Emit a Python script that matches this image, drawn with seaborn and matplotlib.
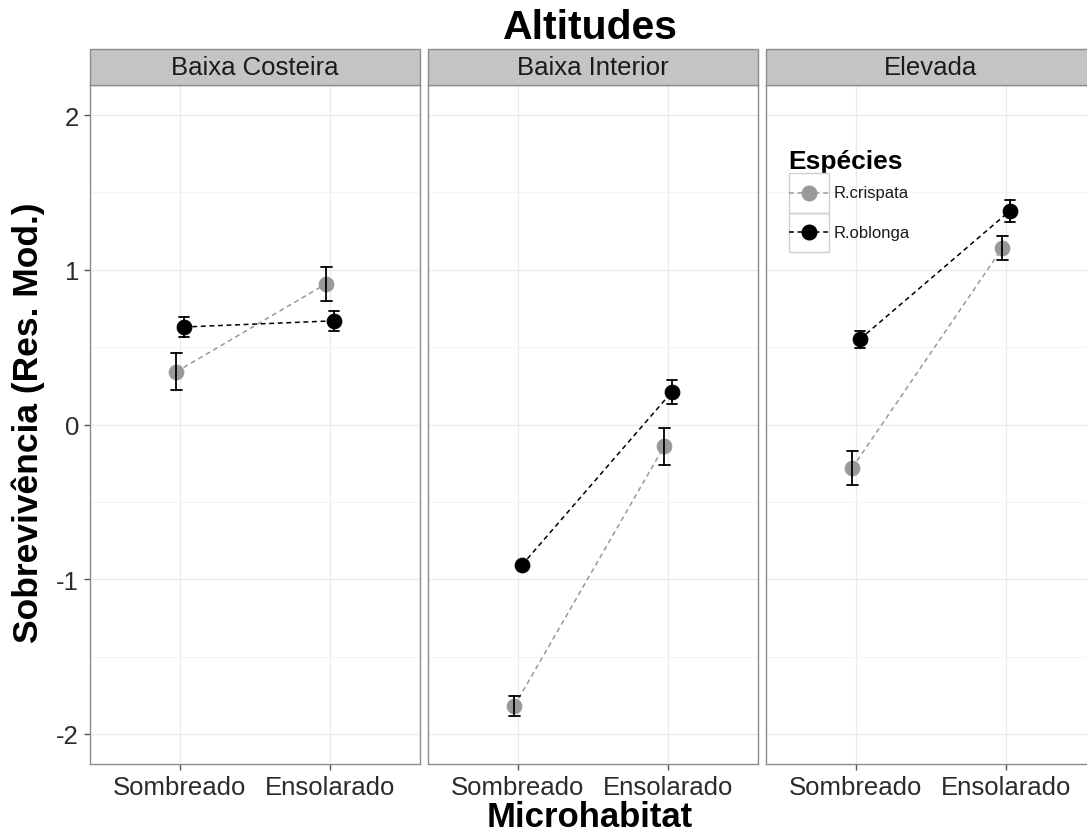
import numpy as np
import pandas as pd
import matplotlib
matplotlib.use("Agg")
import matplotlib.pyplot as plt
from matplotlib.lines import Line2D
from matplotlib.patches import Rectangle
from matplotlib.legend_handler import HandlerLine2D
import seaborn as sns

# ---- data -------------------------------------------------------------
altitudes = ["Baixa Costeira", "Baixa Interior", "Elevada"]
habitats = ["Sombreado", "Ensolarado"]
species = ["R.crispata", "R.oblonga"]

# mean survival residuals per altitude (rows) and microhabitat (cols)
crispata_mean = [[0.34, 0.91], [-1.82, -0.14], [-0.28, 1.14]]
crispata_se = [[0.12, 0.11], [0.065, 0.12], [0.11, 0.075]]
oblonga_mean = [[0.63, 0.67], [-0.91, 0.21], [0.55, 1.38]]
oblonga_se = [[0.065, 0.065], [0.02, 0.075], [0.055, 0.07]]

y_ticks = [-2, -1, 0, 1, 2]
y_tick_labels = ["-2", "-1", "0", "1", "2"]

# long table: each cell holds mean-se, mean, mean+se so that the
# estimator returns the mean and the min/max interval returns +/- se
rows = []
for sp, means, ses in [(species[0], crispata_mean, crispata_se),
                       (species[1], oblonga_mean, oblonga_se)]:
    for i, alt in enumerate(altitudes):
        for j, hab in enumerate(habitats):
            m, s = means[i][j], ses[i][j]
            for v in (m - s, m, m + s):
                rows.append({"Altitude": alt, "Microhabitat": hab,
                             "Especie": sp, "valor": v})
df = pd.DataFrame(rows)

# ---- style ------------------------------------------------------------
sns.set_theme(style="white")
plt.rcParams["font.family"] = ["Liberation Sans", "DejaVu Sans"]

palette = {"R.crispata": "#999999", "R.oblonga": "#000000"}
border = "#8c8c8c"
strip_fill = "#c4c4c4"
tick_color = "#2b2b2b"
dash = (0, (3.2, 2.4))

W, H = 1087, 837
fig = plt.figure(figsize=(W / 100, H / 100), dpi=100)

panel_left = [90, 428, 766]
panel_w = 330
panel_top, panel_bottom = 86, 765
strip_h = 36

axes = []
for k, alt in enumerate(altitudes):
    ax = fig.add_axes([panel_left[k] / W, 1 - panel_bottom / H,
                       panel_w / W, (panel_bottom - panel_top) / H])
    sub = df[df["Altitude"] == alt]
    sns.pointplot(
        data=sub, x="Microhabitat", y="valor", hue="Especie",
        order=habitats, hue_order=species, palette=palette,
        estimator="mean", errorbar=lambda v: (v.min(), v.max()),
        dodge=0.05, capsize=0.07, linestyles=dash,
        markers="o", markersize=10.5, linewidth=1.1,
        err_kws={"color": "black", "linewidth": 1.3},
        legend=False, ax=ax,
    )
    ax.set_xlim(-0.6, 1.6)
    ax.set_ylim(-2.194, 2.194)
    ax.set_yticks(y_ticks)
    ax.set_yticklabels(y_tick_labels)
    ax.set_yticks(np.arange(-1.5, 2.0, 1.0), minor=True)
    ax.grid(True, which="major", color="#ebebeb", linewidth=1.0)
    ax.grid(True, which="minor", axis="y", color="#f4f4f4", linewidth=0.8)
    ax.set_axisbelow(True)
    for sp in ax.spines.values():
        sp.set_color(border)
        sp.set_linewidth(1.0)
        sp.set_visible(True)
    ax.tick_params(axis="both", which="major", length=4, width=1.0,
                   color="#555555", labelsize=18.5, labelcolor=tick_color,
                   pad=4, left=True, bottom=True)
    ax.tick_params(axis="y", which="minor", length=0)
    ax.set_xlabel("")
    ax.set_ylabel("")
    if k > 0:
        ax.tick_params(axis="y", labelleft=False, left=False)

    # facet strip
    sh = strip_h / (panel_bottom - panel_top)
    ax.add_patch(Rectangle((0, 1), 1, sh, transform=ax.transAxes,
                           facecolor=strip_fill, edgecolor=border,
                           linewidth=1.0, clip_on=False, zorder=3))
    ax.text(0.5, 1 + sh / 2, alt, transform=ax.transAxes, ha="center",
            va="center", fontsize=18.5, color="#1a1a1a", zorder=4)
    axes.append(ax)

# ---- titles -----------------------------------------------------------
fig.text(590 / W, 1 - 28 / H, "Altitudes", ha="center", va="center",
         fontsize=29.5, fontweight="bold", color="black")
fig.text(590 / W, 1 - 818 / H, "Microhabitat", ha="center", va="center",
         fontsize=25, fontweight="bold", color="black")
fig.text(28 / W, 1 - 423 / H, "Sobrevivência (Res. Mod.)", ha="center",
         va="center", rotation=90, fontsize=25.5, fontweight="bold",
         color="black")


# ---- legend with boxed keys -------------------------------------------
class BoxedKey(HandlerLine2D):
    def create_artists(self, legend, orig_handle, xdescent, ydescent,
                       width, height, fontsize, trans):
        arts = super().create_artists(legend, orig_handle, xdescent,
                                      ydescent, width, height, fontsize,
                                      trans)
        yc = (height - 2 * ydescent) / 2
        for a in arts:
            a.set_ydata(np.full_like(np.asarray(a.get_xdata(), float), yc))
        box = Rectangle((-xdescent, -ydescent), width, height,
                        transform=trans, fill=False, edgecolor="#d0d0d0",
                        linewidth=1.0)
        return [box] + list(arts)


handles = [Line2D([], [], color=palette[s], linestyle=dash,
                  linewidth=1.1, marker="o", markersize=10.5)
           for s in species]
leg = fig.legend(
    handles, species, title="Espécies", loc="upper left",
    bbox_to_anchor=(777 / W, 1 - 138 / H), bbox_transform=fig.transFigure,
    frameon=False, fontsize=12, title_fontproperties={"weight": "bold",
                                                      "size": 19},
    handlelength=2.4, handleheight=3.3, labelspacing=0.0,
    handletextpad=0.3, borderpad=0.2, alignment="left",
    handler_map={Line2D: BoxedKey(numpoints=1)},
)
leg.get_title().set_color("black")
for t in leg.get_texts():
    t.set_color("#1a1a1a")

fig.savefig("out.png", dpi=100)
